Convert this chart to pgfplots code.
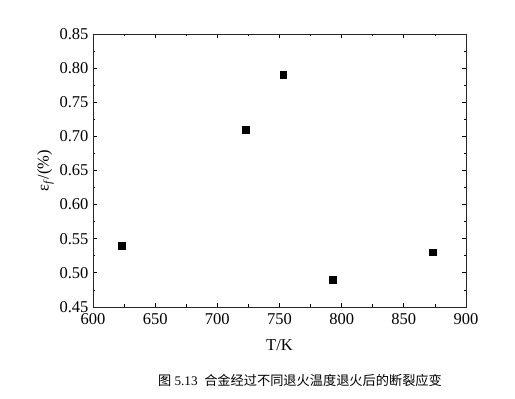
\documentclass[border=0pt]{standalone}
\usepackage{pgfplots}
\pgfplotsset{compat=1.18}
\usepackage{fontspec}
\setmainfont{Liberation Serif}
\newfontfamily\cjk{Noto Sans CJK SC}
\begin{document}
\begin{tikzpicture}[x=1pt,y=1pt]
\useasboundingbox (0,0) rectangle (515,399);
\begin{axis}[
  at={(93pt,92pt)}, anchor=south west,
  scale only axis, width=373pt, height=273pt,
  xmin=600, xmax=900, ymin=0.45, ymax=0.85,
  xtick={600,650,...,900},
  ytick={0.45,0.50,...,0.85},
  minor x tick num=1, minor y tick num=1,
  tick align=inside,
  major tick length=4pt, minor tick length=2.5pt,
  every tick/.style={black, line width=0.8pt},
  axis line style={line width=0.9pt, black!85},
  tick label style={font=\fontsize{16.5}{18}\selectfont},
  yticklabel style={xshift=-1pt},
  xticklabel style={yshift=-3pt},
  /pgf/number format/assume math mode=true,
  yticklabel style={/pgf/number format/.cd, fixed, fixed zerofill, precision=2},
  xticklabel style={/pgf/number format/.cd, fixed, 1000 sep={}},
  xlabel={T/K},
  xlabel style={font=\fontsize{16.5}{18}\selectfont, yshift=-8pt},
  ylabel={ε\textsubscript{\textit{f}}/(\%)},
  ylabel style={font=\fontsize{16.5}{18}\selectfont, yshift=-1pt},
]
\addplot[only marks, mark=square*, mark size=3.3pt, black] coordinates {
  (623,0.54) (723,0.71) (753,0.79) (793,0.49) (873,0.53)
};
\end{axis}
\node[anchor=center, font=\fontsize{13.2}{16}\selectfont] at (300,19) {{\cjk 图} 5.13\ \ {\cjk 合金经过不同退火温度退火后的断裂应变}};
\end{tikzpicture}
\end{document}
